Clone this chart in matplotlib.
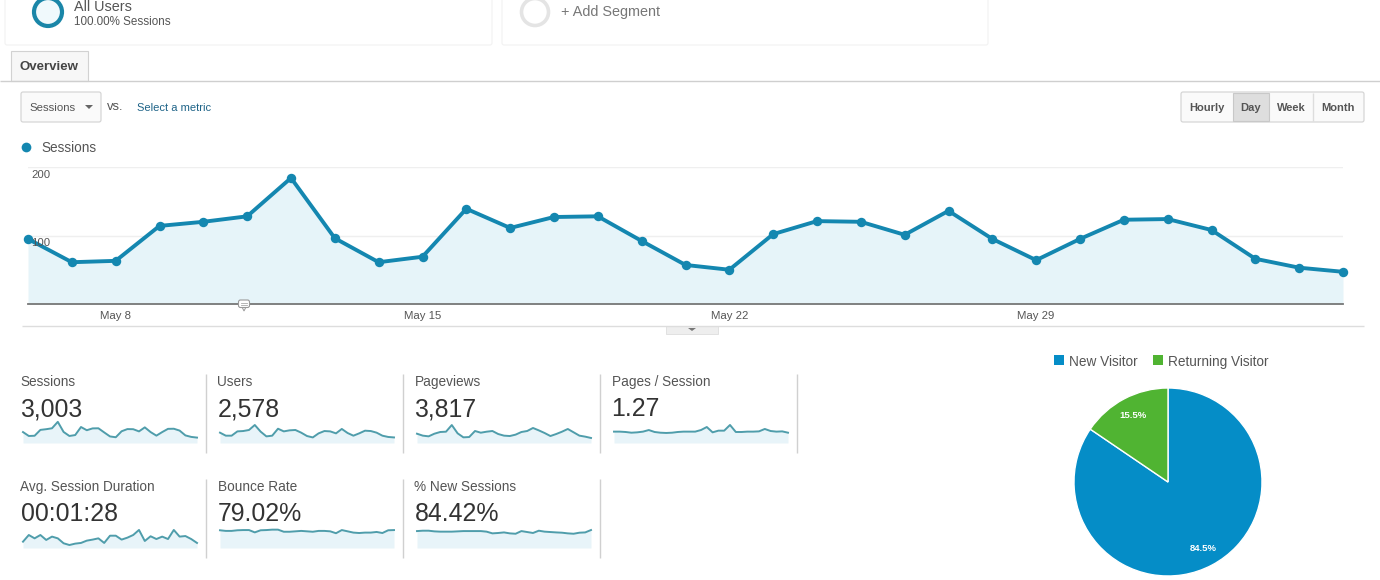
import matplotlib
matplotlib.use("Agg")
import matplotlib.pyplot as plt
from matplotlib.patches import Rectangle, FancyBboxPatch, Circle, Polygon

plt.rcParams['font.family'] = ['Liberation Sans', 'DejaVu Sans']

W, H = 1380, 580

# dias del eje (0 = May 6)
days = list(range(31))
date_ticks = [2, 9, 16, 23]
date_labels = ['May 8', 'May 15', 'May 22', 'May 29']
y_ticks = [100, 200]

sessions = [95, 61, 63, 114, 120, 128, 184, 96, 61, 69, 139, 111, 127, 128, 92, 57,
            50, 102, 121, 120, 101, 136, 95, 64, 95, 123, 124, 108, 66, 53, 47]
users = [89, 63, 63, 100, 103, 112, 155, 98, 57, 63, 123, 100, 109, 112, 89, 60,
         48, 83, 103, 100, 83, 121, 86, 63, 83, 106, 103, 89, 63, 52, 48]
pageviews = [120, 95, 86, 120, 142, 146, 232, 125, 73, 77, 155, 133, 146, 155, 116, 95,
             90, 108, 142, 155, 194, 163, 129, 90, 116, 146, 181, 138, 95, 82, 65]
pages_session = [1.28, 1.28, 1.24, 1.16, 1.20, 1.28, 1.46, 1.24, 1.16, 1.13, 1.16, 1.24, 1.28, 1.28, 1.28, 1.46,
                 1.80, 1.20, 1.39, 1.39, 2.03, 1.24, 1.24, 1.28, 1.28, 1.31, 1.58, 1.35, 1.28, 1.31, 1.16]
avg_duration = [55, 113, 84, 113, 70, 99, 84, 41, 26, 38, 44, 64, 73, 84, 44, 107,
                107, 73, 90, 113, 157, 61, 102, 78, 99, 78, 157, 99, 104, 78, 44]
bounce_rate = [84, 81, 81, 84, 85, 85, 74, 84, 85, 87, 87, 77, 77, 79, 81, 79,
               77, 81, 81, 79, 70, 85, 79, 73, 71, 73, 73, 76, 71, 84, 85]
new_sessions = [89, 91, 91, 87.5, 86, 86, 86, 87.5, 89, 89, 89, 89, 86, 77, 79, 82,
                77, 75, 89, 84, 79, 91, 86, 84, 82, 80.5, 77, 75, 80.5, 82, 94.5]

metric_names = ['Sessions', 'Users', 'Pageviews', 'Pages / Session',
                'Avg. Session Duration', 'Bounce Rate', '% New Sessions']
metric_values = ['3,003', '2,578', '3,817', '1.27', '00:01:28', '79.02%', '84.42%']
metric_series = [sessions, users, pageviews, pages_session, avg_duration, bounce_rate, new_sessions]
spark_tops = [200, 198, 297, 2.59, 200, 109, 121]

pie_labels = ['New Visitor', 'Returning Visitor']
pie_values = [84.5, 15.5]
buttons = ['Hourly', 'Day', 'Week', 'Month']

BLUE = '#1487b0'
GREY = '#555555'

fig = plt.figure(figsize=(W / 100, H / 100), dpi=100, facecolor='white')


def px_axes(x0, y0, x1, y1):
    # ejes colocados en pixeles de la imagen
    ax = fig.add_axes([x0 / W, 1 - y1 / H, (x1 - x0) / W, (y1 - y0) / H])
    ax.patch.set_alpha(0)
    return ax


ui = px_axes(0, 0, W, H)
ui.set_xlim(0, W)
ui.set_ylim(H, 0)
ui.axis('off')


def label(x, y, s, size=9.8, color=GREY, **kw):
    ui.text(x, y + 1, s, fontsize=size, color=color, va='center', **kw)


def box(x0, y0, x1, y1, face='white', edge='#d2d2d2', lw=0.8):
    ui.add_patch(FancyBboxPatch((x0, y0), x1 - x0, y1 - y0, boxstyle='round,pad=0,rounding_size=2',
                                fc=face, ec=edge, lw=lw))


def hline(y, x0, x1, color='#d5d5d5', lw=1):
    ui.plot([x0, x1], [y, y], color=color, lw=lw, solid_capstyle='butt')


def vline(x, y0, y1, color='#d0d0d0', lw=1):
    ui.plot([x, x], [y0, y1], color=color, lw=lw, solid_capstyle='butt')


# segmentos de arriba
box(5, -10, 492, 45, edge='#f2f2f2')
box(502, -10, 988, 45, edge='#f2f2f2')
ui.add_patch(Circle((48, 12), 14, fc='#f0f9fc', ec='#1a86a8', lw=3.0))
ui.add_patch(Circle((535, 12), 13.5, fc='white', ec='#e4e4e4', lw=2.6))
label(74, 6, 'All Users', 10.4)
label(74, 21, '100.00% Sessions', 8.4)
label(561, 11, '+ Add Segment', 10.4, color='#777777')

# pestana
ui.add_patch(Rectangle((11, 51), 77, 30, fc='#f7f7f7', ec='#d2d2d2', lw=0.8))
hline(80.5, 0, W, '#cfcfcf')
label(20, 66, 'Overview', 9.5, color='#444444', fontweight='bold')

# selector de metrica
box(21, 92, 101, 122, face='#fafafa')
label(29, 107, 'Sessions', 8.2)
ui.add_patch(Polygon([(85, 105), (93, 105), (89, 109)], fc='#666666', ec='none'))
label(107, 105.5, 'vs.', 9.4)
label(137, 107, 'Select a metric', 8, color='#1f6488')

# botones de periodo
box(1181, 92, 1364, 122, face='#fafafa')
ui.add_patch(Rectangle((1233, 93), 36, 28, fc='#dedede', ec='#c8c8c8', lw=0.8))
vline(1313, 93, 121, '#dddddd')
for cx, b in zip([1207, 1251, 1291, 1338], buttons):
    label(cx, 107, b, 8, color='#555555', ha='center', fontweight='bold')

# leyenda del grafico principal
ui.plot([26], [147], 'o', color=BLUE, ms=7, mew=0)
label(41, 147, 'Sessions', 9.8)

# grafico principal
ax = px_axes(28, 167, 1343, 304)
ax.fill_between(days, sessions, color='#e6f4f9', lw=0)
ax.plot(days, sessions, color=BLUE, lw=2.8, marker='o', ms=6.8, mew=0, clip_on=False, zorder=3)
ax.set_xlim(0, 30)
ax.set_ylim(0, 200)
ax.set_yticks(y_ticks)
ax.set_yticklabels([])
ax.grid(axis='y', color='#efefef', lw=1)
ax.set_axisbelow(True)
ax.tick_params(axis='y', length=0)
for v in y_ticks:
    ax.annotate(str(v), (0, v), xycoords=('axes fraction', 'data'), xytext=(3, -7.5),
                textcoords='offset pixels', fontsize=8.2, color=GREY, va='center', zorder=4,
                annotation_clip=False)
ax.set_xticks(date_ticks)
ax.set_xticklabels(date_labels)
ax.tick_params(axis='x', length=0, pad=5, labelsize=8.2, labelcolor=GREY)
for side in ['top', 'left', 'right']:
    ax.spines[side].set_visible(False)
ax.spines['bottom'].set_color('#777777')
ax.spines['bottom'].set_linewidth(1.3)

hline(325.5, 22, 1364, '#dddddd')
ui.add_patch(Rectangle((666, 326), 52, 8, fc='#eeeeee', ec='#dddddd', lw=0.6))
ui.add_patch(Polygon([(688, 328), (696, 328), (692, 331)], fc='#777777', ec='none'))

# tarjetas de metricas
columns = [20.5, 217.5, 414.5, 611.5]
rows = [381, 486]
positions = [(0, 0), (1, 0), (2, 0), (3, 0), (0, 1), (1, 1), (2, 1)]
for (c, r), name, value, series, top in zip(positions, metric_names, metric_values, metric_series, spark_tops):
    x = columns[c]
    y = rows[r]
    label(x, y, name, 9.8)
    label(x, y + 27, value, 17.9, color='#333333')
    vline(x + 185.5, y - 7, y + 72)
    sp = px_axes(x + 2.5, y + 39, x + 176.5, y + 62)
    sp.fill_between(days, series, color='#e8f4f9', lw=0)
    sp.plot(days, series, color='#4f9dab', lw=1.4, clip_on=False)
    sp.set_xlim(0, 30)
    sp.set_ylim(0, top)
    sp.axis('off')

# tarta
pie = px_axes(1074, 388, 1262, 576)
wedges, _, autotexts = pie.pie(pie_values, colors=['#058dc7', '#50b432'], startangle=90, counterclock=False,
                               radius=1, autopct='%.1f%%', pctdistance=0.8,
                               wedgeprops={'edgecolor': 'white', 'linewidth': 1})
pie.set_xlim(-1, 1)
pie.set_ylim(-1, 1)
for t in autotexts:
    t.set_color('white')
    t.set_fontsize(6.8)
    t.set_fontweight('bold')

ui.add_patch(Rectangle((1054, 355), 10, 10, fc='#058dc7', ec='none'))
label(1069, 361, pie_labels[0], 9.8)
ui.add_patch(Rectangle((1153, 355), 10, 10, fc='#50b432', ec='none'))
label(1168, 361, pie_labels[1], 9.8)

# burbuja de anotacion, encima del eje
top_ax = px_axes(0, 0, W, H)
top_ax.set_xlim(0, W)
top_ax.set_ylim(H, 0)
top_ax.axis('off')
top_ax.add_patch(Polygon([(242, 307), (246, 307), (244, 311)], fc='white', ec='#999999', lw=0.7))
top_ax.add_patch(FancyBboxPatch((238.5, 300), 11, 7.5, boxstyle='round,pad=0,rounding_size=2',
                                fc='white', ec='#999999', lw=0.8))
top_ax.plot([241, 247], [303, 303], color='#aaaaaa', lw=0.6)
top_ax.plot([241, 247], [305, 305], color='#aaaaaa', lw=0.6)

fig.savefig('out.png', dpi=100)
